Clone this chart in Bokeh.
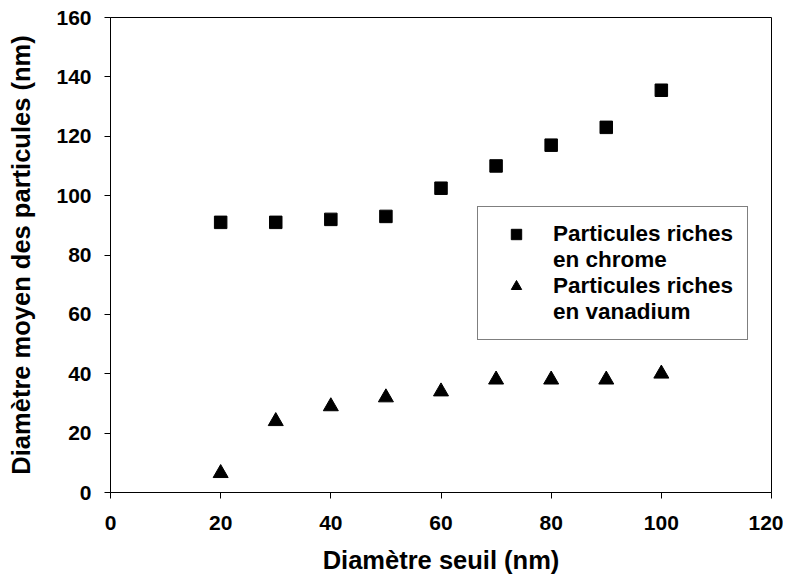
from bokeh.plotting import figure
from bokeh.models import Legend, LegendItem, FixedTicker, Range1d
from bokeh.embed import file_html
from bokeh.resources import INLINE

# Data
seuil = [20, 30, 40, 50, 60, 70, 80, 90, 100]
chrome = [91, 91, 92, 93, 102.5, 110, 117, 123, 135.5]
vanadium = [6.5, 24, 29, 32, 34, 38, 38, 38, 40]
x_ticks = [0, 20, 40, 60, 80, 100, 120]
y_ticks = [0, 20, 40, 60, 80, 100, 120, 140, 160]
legend_lines = ["Particules riches", "en chrome", "Particules riches", "en vanadium"]

FONT = "Liberation Sans"

p = figure(
    output_backend="svg", toolbar_location=None,
    frame_width=661, frame_height=475,
    min_border_left=110, min_border_top=17, min_border_right=12, min_border_bottom=88,
    x_range=Range1d(0, 120), y_range=Range1d(0, 160),
)
p.background_fill_color = "white"
p.border_fill_color = "white"
p.outline_line_color = "black"
p.outline_line_width = 1
p.xgrid.visible = False
p.ygrid.visible = False

r1 = p.scatter(seuil, chrome, marker="square", size=12.5, color="black")
r2 = p.scatter(seuil, vanadium, marker="triangle", size=15, color="black")
# transparent placeholder used only for the second line of each legend entry
r_blank = p.scatter(seuil[:0], chrome[:0], marker="square", size=1,
                    fill_alpha=0, line_alpha=0)

for ax, ticks in ((p.xaxis[0], x_ticks), (p.yaxis[0], y_ticks)):
    ax.ticker = FixedTicker(ticks=ticks)
    ax.minor_tick_line_color = None
    ax.major_tick_in = 0
    ax.major_tick_out = 6
    ax.axis_line_color = "black"
    ax.major_tick_line_color = "black"
    ax.major_label_text_font = FONT
    ax.major_label_text_font_style = "bold"
    ax.major_label_text_font_size = "21px"
    ax.major_label_text_color = "black"
    ax.axis_label_text_font = FONT
    ax.axis_label_text_font_style = "bold"
    ax.axis_label_text_font_size = "25.5px"
    ax.axis_label_text_color = "black"

p.xaxis.axis_label = "Diamètre seuil (nm)"
p.yaxis.axis_label = "Diamètre moyen des particules (nm)"
p.xaxis.major_label_standoff = 17
p.yaxis.major_label_standoff = 13
p.xaxis.axis_label_standoff = 13
p.yaxis.axis_label_standoff = 18

legend = Legend(
    items=[LegendItem(label=legend_lines[0], renderers=[r1]),
           LegendItem(label=legend_lines[1], renderers=[r_blank]),
           LegendItem(label=legend_lines[2], renderers=[r2]),
           LegendItem(label=legend_lines[3], renderers=[r_blank])],
    location=(367, 152),
    border_line_color="black", border_line_width=1,
    label_text_font=FONT, label_text_font_style="bold",
    label_text_font_size="22.5px", label_text_color="black",
    glyph_width=48, glyph_height=26, label_height=26,
    padding=14, spacing=0, margin=0, label_standoff=13,
)
p.add_layout(legend, "center")

open("out.html", "w").write(file_html(p, INLINE))
